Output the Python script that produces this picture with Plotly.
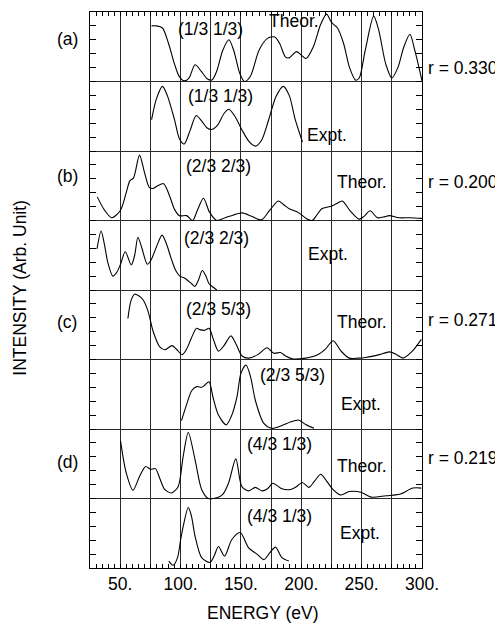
import plotly.graph_objects as go

# ---------------- data (energy in eV, intensity in panel-height units 0..1) ----------------
a_theor_E = [76, 80, 85, 90, 95, 99, 103, 107, 112, 117, 122, 126, 130, 135, 140, 144, 149, 153, 158,
             165, 172, 178, 182, 187, 190, 196, 200, 204, 210, 216, 221, 225, 230, 235, 240, 245, 248,
             253, 260, 264, 270, 275, 280, 285, 290, 294, 300]
a_theor_I = [0.80, 0.80, 0.77, 0.55, 0.25, 0.07, 0.01, 0.05, 0.24, 0.15, 0.04, 0.02, 0.15, 0.45, 0.60,
             0.45, 0.12, 0.00, 0.08, 0.45, 0.62, 0.64, 0.55, 0.35, 0.34, 0.43, 0.38, 0.33, 0.50, 0.82,
             0.97, 0.85, 0.77, 0.55, 0.20, 0.02, 0.05, 0.45, 0.94, 0.75, 0.25, 0.05, 0.20, 0.50, 0.68,
             0.45, 0.01]

a_expt_E = [76, 80, 85, 89, 95, 99, 103, 108, 113, 118, 122, 126, 131, 136, 140, 145, 151, 157, 162,
            167, 173, 179, 185, 190, 195, 201]
a_expt_I = [0.45, 0.75, 0.93, 0.80, 0.45, 0.18, 0.10, 0.30, 0.51, 0.42, 0.33, 0.31, 0.38, 0.54, 0.60,
            0.50, 0.30, 0.13, 0.07, 0.15, 0.45, 0.78, 0.93, 0.80, 0.45, 0.13]

b_theor_E = [31, 37, 43, 50, 55, 58, 61, 66, 70, 74, 77, 81, 86, 91, 95, 99, 105, 110, 114, 119,
             124, 130, 137, 144, 151, 159, 167, 174, 181, 186, 190, 198, 204, 209, 213, 217, 224, 229,
             234, 240, 248, 252, 257, 263, 268, 273, 281, 290, 300]
b_theor_I = [0.34, 0.15, 0.04, 0.14, 0.40, 0.57, 0.61, 0.94, 0.70, 0.48, 0.46, 0.50, 0.53, 0.35,
             0.16, 0.07, 0.07, 0.00, 0.15, 0.32, 0.12, 0.00, 0.04, 0.08, 0.11, 0.06, 0.01, 0.15, 0.28,
             0.22, 0.17, 0.11, 0.03, 0.00, 0.08, 0.17, 0.20, 0.24, 0.28, 0.15, 0.02, 0.06, 0.14, 0.04,
             0.05, 0.07, 0.04, 0.04, 0.03]

b_expt_E = [30.8, 34.2, 37, 39.7, 43.9, 47, 50.3, 54.2, 59.2, 62, 64.7, 68, 72.5, 75.8, 80, 84.7,
            88, 92.5, 96, 99.4, 103.6, 109.2, 111.9, 115, 118, 121, 123.6, 127, 130]
b_expt_I = [0.59, 0.85, 0.65, 0.40, 0.20, 0.25, 0.37, 0.55, 0.36, 0.50, 0.76, 0.60, 0.37, 0.44,
            0.62, 0.79, 0.68, 0.44, 0.28, 0.20, 0.17, 0.09, 0.05, 0.15, 0.28, 0.20, 0.09, 0.04, 0.00]

c_theor_E = [56.4, 59, 61.9, 65, 68.9, 73, 77.2, 82.8, 86.9, 93, 97, 101.4, 105, 109, 113.3, 116,
             120, 123.6, 127, 131.4, 136, 141.7, 146, 151, 156.4, 164, 171.7, 177.2, 182.8, 187,
             192.5, 203.6, 209, 214.7, 220, 226.4, 233, 239.7, 247, 253.6, 264.7, 273, 279, 284.2,
             292, 299.4]
c_theor_I = [0.59, 0.85, 0.94, 0.92, 0.86, 0.70, 0.41, 0.18, 0.14, 0.20, 0.14, 0.07, 0.15, 0.31, 0.45,
             0.43, 0.42, 0.45, 0.30, 0.12, 0.20, 0.34, 0.22, 0.05, 0.02, 0.07, 0.17, 0.09, 0.10, 0.05,
             0.01, 0.02, 0.04, 0.08, 0.15, 0.27, 0.12, 0.02, 0.02, 0.03, 0.07, 0.11, 0.07, 0.02, 0.12,
             0.29]

c_expt_E = [100.8, 105, 109.2, 113.3, 117.5, 120, 123.6, 127, 131.4, 137.8, 142, 146.7, 150, 154.2,
            158, 162, 169, 175.8, 184, 191, 197.5, 204, 210.5]
c_expt_I = [0.12, 0.35, 0.55, 0.61, 0.60, 0.63, 0.68, 0.45, 0.20, 0.06, 0.18, 0.46, 0.80, 0.92,
            0.75, 0.41, 0.08, 0.01, 0.05, 0.10, 0.13, 0.06, 0.01]

d_theor_E = [50.3, 55, 60.6, 66.1, 71.1, 75.3, 79.2, 83, 86.9, 92.5, 98, 102.2, 106.4, 112, 117.5,
             123, 130, 135, 139.7, 145.8, 150.8, 156.4, 161.9, 167.5, 172, 176.4, 184, 191, 196,
             200.8, 206.4, 211, 216.1, 221, 225.8, 232.8, 239.7, 249.4, 257.8, 270.3, 281.4, 292.5,
             299.4]
d_theor_I = [0.83, 0.37, 0.12, 0.32, 0.46, 0.42, 0.43, 0.28, 0.13, 0.08, 0.17, 0.61, 0.95, 0.56, 0.13,
             0.00, 0.01, 0.06, 0.22, 0.57, 0.17, 0.11, 0.16, 0.11, 0.14, 0.22, 0.14, 0.13, 0.17, 0.23,
             0.16, 0.25, 0.35, 0.25, 0.14, 0.05, 0.10, 0.09, 0.02, 0.04, 0.06, 0.15, 0.15]

d_expt_E = [90.3, 93.9, 97.5, 100, 102.2, 106.4, 109, 112, 117.5, 124.4, 128, 131.4, 136.4, 142.5,
            149.4, 156.4, 163.3, 168.9, 174, 178.6, 184, 189.7]
d_expt_I = [0.10, 0.04, 0.15, 0.40, 0.60, 0.87, 0.75, 0.46, 0.15, 0.08, 0.18, 0.31, 0.17, 0.41,
            0.51, 0.29, 0.20, 0.12, 0.22, 0.30, 0.15, 0.10]

# x tick labels (gridlines every 25 eV, labels every 50 eV)
x_tickvals = [25, 50, 75, 100, 125, 150, 175, 200, 225, 250, 275, 300]
x_ticktext = ["", "50.", "", "100.", "", "150.", "", "200.", "", "250.", "", "300."]

panel_letters = ["(a)", "(b)", "(c)", "(d)"]
r_values = ["r = 0.330", "r = 0.200", "r = 0.271", "r = 0.219"]
beam_labels = ["(1/3 1/3)", "(2/3 2/3)", "(2/3 5/3)", "(4/3 1/3)"]

# ---------------- figure ----------------
FONT = "Liberation Sans, Arial, Helvetica, sans-serif"
FS = 17.5

curves = [(a_theor_E, a_theor_I), (a_expt_E, a_expt_I),
          (b_theor_E, b_theor_I), (b_expt_E, b_expt_I),
          (c_theor_E, c_theor_I), (c_expt_E, c_expt_I),
          (d_theor_E, d_theor_I), (d_expt_E, d_expt_I)]

fig = go.Figure()
n = len(curves)
for k, (E, I) in enumerate(curves):
    off = n - 1 - k
    fig.add_trace(go.Scatter(x=E, y=[v + off for v in I], mode="lines",
                             line=dict(color="black", width=1.1, shape="spline", smoothing=0.8),
                             showlegend=False, hoverinfo="skip"))

ann = []
letter_y = [7.61, 5.64, 3.54, 1.53]
r_y = [7.19, 5.56, 3.57, 1.58]
for i in range(4):
    ann.append(dict(text=panel_letters[i], xref="paper", yref="y", x=-0.069, y=letter_y[i],
                    xanchor="center", yanchor="middle", showarrow=False))
    ann.append(dict(text=r_values[i], xref="paper", yref="y", x=1.012, y=r_y[i],
                    xanchor="left", yanchor="middle", showarrow=False))

beam_pos = [(124.4, 7.75), (132.8, 6.79), (131.4, 5.78), (130, 4.75),
            (131.4, 3.73), (192.5, 2.77), (182, 1.78), (182, 0.75)]
kind_pos = [(193.6, 7.87), (221, 6.23), (250.5, 5.56), (222, 4.52),
            (250.5, 3.54), (249.4, 2.36), (250.5, 1.47), (248.5, 0.51)]
for k in range(8):
    bx, by = beam_pos[k]
    kx, ky = kind_pos[k]
    ann.append(dict(text=beam_labels[k // 2], x=bx, y=by, xref="x", yref="y",
                    xanchor="center", yanchor="middle", showarrow=False))
    ann.append(dict(text="Theor." if k % 2 == 0 else "Expt.", x=kx, y=ky, xref="x", yref="y",
                    xanchor="center", yanchor="middle", showarrow=False))

ann.append(dict(text="INTENSITY (Arb. Unit)", xref="paper", yref="paper", x=-0.211, y=0.504,
                textangle=-90, xanchor="center", yanchor="middle", showarrow=False))
ann.append(dict(text="ENERGY (eV)", xref="paper", yref="paper", x=0.522, y=-0.081,
                xanchor="center", yanchor="middle", showarrow=False))

# the page body has an 8px margin, so the figure is 8px smaller and the left/top margins 8px less
fig.update_layout(
    width=495, height=615,
    margin=dict(l=82, r=81, t=4, b=55),
    paper_bgcolor="white", plot_bgcolor="white",
    font=dict(family=FONT, size=FS, color="black"),
    annotations=ann,
    xaxis=dict(range=[25, 300], tickmode="array", tickvals=x_tickvals, ticktext=x_ticktext,
               showgrid=True, gridcolor="#2a2a2a", gridwidth=1,
               ticks="inside", ticklen=4, tickcolor="black",
               minor=dict(tickmode="linear", tick0=0, dtick=5, ticks="inside", ticklen=4,
                          tickcolor="black", showgrid=False),
               showline=True, linecolor="black", linewidth=1, mirror="ticks",
               zeroline=False, tickfont=dict(size=FS)),
    yaxis=dict(range=[0, 8], tickmode="linear", tick0=0, dtick=1,
               showgrid=True, gridcolor="#2a2a2a", gridwidth=1,
               showticklabels=False, ticks="inside", ticklen=6, tickcolor="black",
               minor=dict(tickmode="linear", tick0=0, dtick=0.2, ticks="inside", ticklen=6,
                          tickcolor="black", showgrid=False),
               showline=True, linecolor="black", linewidth=1, mirror="ticks",
               zeroline=False),
)

fig.write_html("out.html")
